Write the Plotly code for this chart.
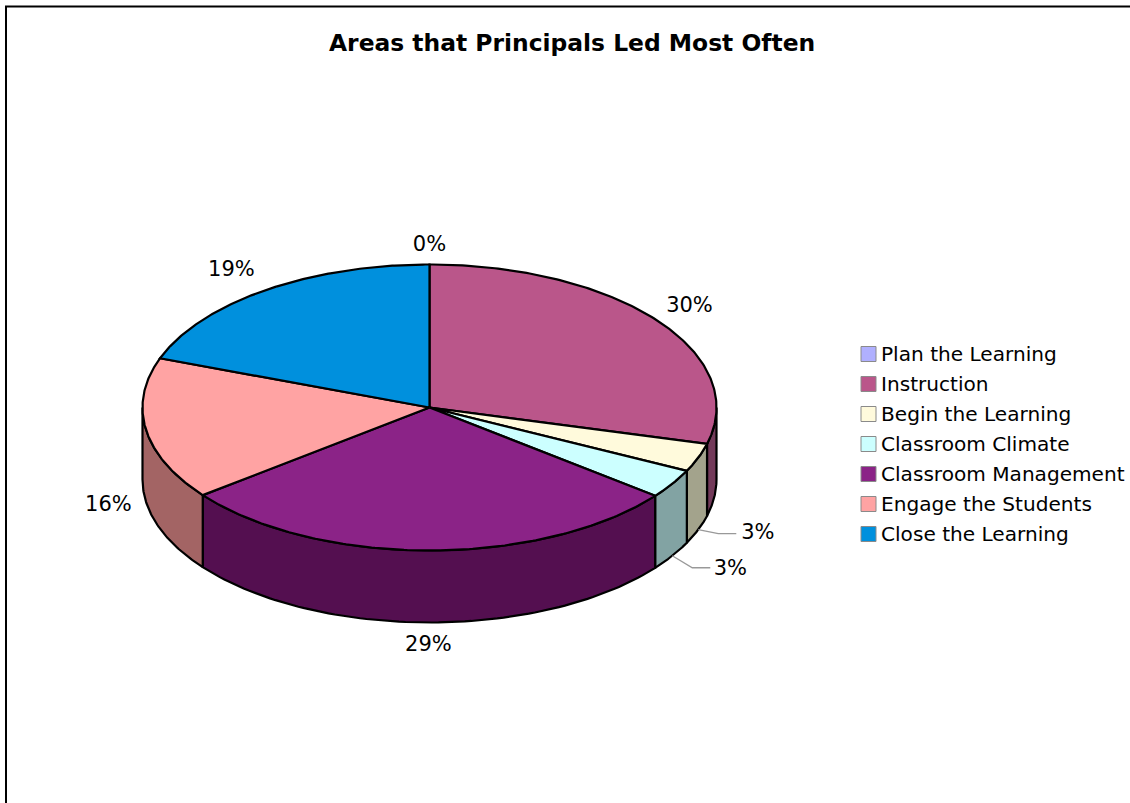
import numpy as np
import plotly.graph_objects as go

categories = ["Plan the Learning", "Instruction", "Begin the Learning", "Classroom Climate",
              "Classroom Management", "Engage the Students", "Close the Learning"]
shares = [0.0, 29.1, 3.2, 3.3, 28.9, 16.1, 19.4]
percent_labels = ["0%", "30%", "3%", "3%", "29%", "16%", "19%"]
top_colors = ["#B0B0FF", "#BA568A", "#FFFADC", "#CCFFFF", "#8B2387", "#FFA3A3", "#0090DD"]
side_colors = ["#7070A3", "#733A5A", "#A3A38C", "#82A3A3", "#540F50", "#A36464", "#005C8D"]
title_text = "Areas that Principals Led Most Often"

label_dx = [0, -3, 1.5, 0, 0, 7, -8]
label_dy = [3, 0, 0, 2, 2, 2, -1]

W, H = 1130, 803
CX, CY, RX, RY, DEPTH = 429.5, 407.5, 287, 143, 72
LX, LY, LDEPTH = 332, 165, 71
FONT = "DejaVu Sans"
LINE_W = 2.2

total = sum(shares)
edges = np.concatenate([[0], np.cumsum(shares)]) / total * 2 * np.pi


def px(t):
    return CX + RX * np.sin(t)


def py(t):
    return CY - RY * np.cos(t)


fig = go.Figure()

# side walls: visible only on the front half of the disc
for i, name in enumerate(categories):
    a, b = max(edges[i], np.pi / 2), min(edges[i + 1], 3 * np.pi / 2)
    if b <= a:
        continue
    t = np.linspace(a, b, 80)
    xs = np.concatenate([px(t), px(t[::-1]), [px(t[0])]])
    ys = np.concatenate([py(t), py(t[::-1]) + DEPTH, [py(t[0])]])
    fig.add_trace(go.Scatter(x=xs, y=ys, mode="lines", fill="toself", fillcolor=side_colors[i],
                             line=dict(color="black", width=LINE_W), name=name,
                             hoverinfo="skip", showlegend=False))

# top faces
for i, name in enumerate(categories):
    t = np.linspace(edges[i], edges[i + 1], 160)
    xs = np.concatenate([[CX], px(t), [CX]])
    ys = np.concatenate([[CY], py(t), [CY]])
    fig.add_trace(go.Scatter(x=xs, y=ys, mode="lines", fill="toself", fillcolor=top_colors[i],
                             line=dict(color="black", width=LINE_W), name=name,
                             hoverinfo="skip", showlegend=False))

# slice labels, with leader lines for the narrow slices
for i, label in enumerate(percent_labels):
    mid = (edges[i] + edges[i + 1]) / 2
    lx = CX + LX * np.sin(mid)
    ly = CY - LY * np.cos(mid)
    if np.cos(mid) < 0:
        ly += LDEPTH
    if shares[i] < 5 and shares[i] > 0:
        sx, sy = px(mid), py(mid) + DEPTH
        by = sy + (4 if mid < 1.95 else 12)
        fig.add_trace(go.Scatter(x=[sx, sx + 20, sx + 38], y=[sy, by, by], mode="lines",
                                 line=dict(color="#999999", width=1.3),
                                 hoverinfo="skip", showlegend=False))
        lx, ly = sx + 58, by
    fig.add_trace(go.Scatter(x=[lx + label_dx[i]], y=[ly + label_dy[i]], mode="text", text=[label],
                             textposition="middle center",
                             textfont=dict(family=FONT, size=21, color="black"),
                             hoverinfo="skip", showlegend=False))

# legend
LEG_X, LEG_Y, LEG_STEP = 868.5, 354, 30
for i, name in enumerate(categories):
    y = LEG_Y + i * LEG_STEP
    fig.add_trace(go.Scatter(x=[LEG_X], y=[y], mode="markers",
                             marker=dict(symbol="square", size=15, color=top_colors[i],
                                         line=dict(color="#8A8A8A", width=1)),
                             name=name, hoverinfo="name", showlegend=False))
    fig.add_annotation(x=881, y=y, text=name, showarrow=False, xanchor="left", yanchor="middle",
                       xref="x", yref="y", borderpad=0, xshift=-1,
                       font=dict(family=FONT, size=20.1, color="black"))

fig.add_annotation(x=572, y=43, text="<b>%s</b>" % title_text, showarrow=False, xanchor="center",
                   yanchor="middle", font=dict(family=FONT, size=23.4, color="black"))

# page frame
fig.add_shape(type="line", x0=6, x1=6, y0=6, y1=H, line=dict(color="black", width=2))
fig.add_shape(type="line", x0=5, x1=W, y0=6.5, y1=6.5, line=dict(color="black", width=2))

fig.update_layout(width=W, height=H, margin=dict(l=0, r=0, t=0, b=0),
                  paper_bgcolor="white", plot_bgcolor="white", showlegend=False,
                  xaxis=dict(range=[0, W], visible=False, fixedrange=True),
                  yaxis=dict(range=[H, 0], visible=False, fixedrange=True))

fig.write_html("out.html", config={"displayModeBar": False},
               post_script="document.body.style.margin='0';")
